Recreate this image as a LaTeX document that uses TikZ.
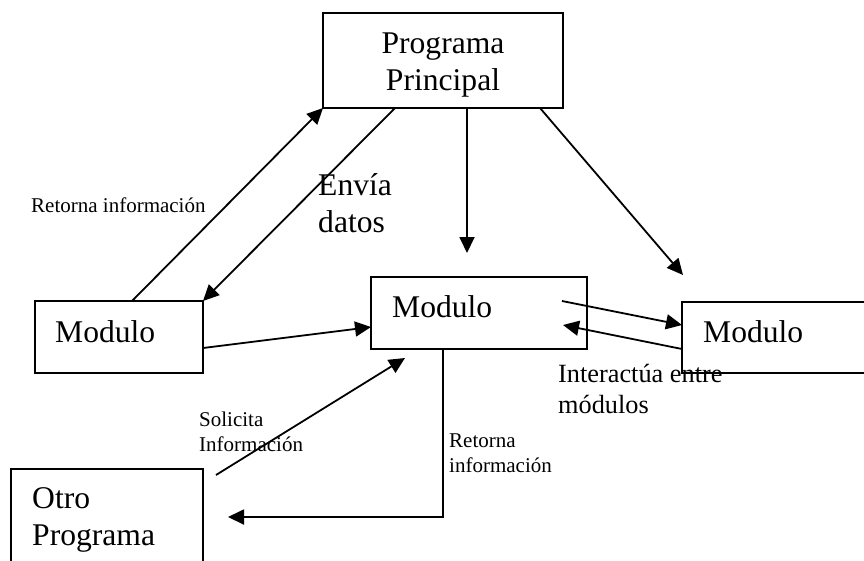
\documentclass[tikz,border=0pt]{standalone}
\usepackage{fontspec}
\setmainfont{Liberation Serif}
\usetikzlibrary{arrows.meta,calc}
\tikzset{
  box/.style={draw,line width=1.8pt,outer sep=0pt,inner sep=0pt,anchor=north west},
  big/.style={inner sep=0pt,anchor=base west,align=left,font=\fontsize{31.6pt}{36.8pt}\selectfont},
  mid/.style={inner sep=0pt,anchor=base west,align=left,font=\fontsize{26.3pt}{30.3pt}\selectfont},
  small/.style={inner sep=0pt,anchor=base west,align=left,font=\fontsize{21pt}{24.3pt}\selectfont},
  conn/.style={line width=1.8pt,-{Triangle[length=16pt,width=15pt]}}
}
\begin{document}
\begin{tikzpicture}[x=1pt,y=-1pt]
\useasboundingbox (0,0) rectangle (864,560);
\clip (0,0) rectangle (864,560);
% boxes
\node[box,minimum width=240pt,minimum height=95pt] (pp) at (323,13) {};
\node[box,minimum width=168pt,minimum height=72pt] (lm) at (35,301) {};
\node[box,minimum width=216pt,minimum height=72pt] (cm) at (371,277) {};
\node[box,minimum width=220pt,minimum height=71pt] (rm) at (682,302) {};
\node[box,minimum width=192pt,minimum height=110pt] (op) at (11,469) {};
% box texts (multi-line: anchored at last baseline)
\node[big,anchor=base,align=center] (ppt) at (443,90) {Programa\\Principal};
\node[big] (lmt) at (55,342) {Modulo};
\node[big] (cmt) at (392,317) {Modulo};
\node[big] (rmt) at (703,342) {Modulo};
\node[big] (opt) at (32,545) {Otro\\Programa};
% labels
\node[small] (l1) at (31,212) {Retorna información};
\node[big] (l2) at (318,232) {Envía\\datos};
\node[mid] (l3) at (558,413) {Interactúa entre\\módulos};
\node[small] (l4) at (199,451) {Solicita\\Información};
\node[small] (l5) at (449,472) {Retorna\\información};
% free ends
\coordinate (c3) at (467,253);
\coordinate (c4) at (683,275);
\coordinate (c6s) at (562,301);
\coordinate (c7e) at (563,325);
\coordinate (c8s) at (216,475);
\coordinate (c8e) at (405,358);
\coordinate (c9e) at (228,517);
% connectors
\draw[conn] ($(lm.north west)+(97,0)$) -- (pp.south west);
\draw[conn] ($(pp.south west)+(72,0)$) -- (lm.north east);
\draw[conn] ($(pp.south west)+(144,0)$) -- (c3);
\draw[conn] ($(pp.south west)+(217,0)$) -- (c4);
\draw[conn] ($(lm.north east)+(0,47)$) -- ($(cm.north west)+(0,50)$);
\draw[conn] (c6s) -- ($(rm.north west)+(0,23)$);
\draw[conn] ($(rm.north west)+(0,47)$) -- (c7e);
\draw[conn] (c8s) -- (c8e);
\draw[conn] ($(cm.south west)+(72,0)$) |- (c9e);
\end{tikzpicture}
\end{document}
